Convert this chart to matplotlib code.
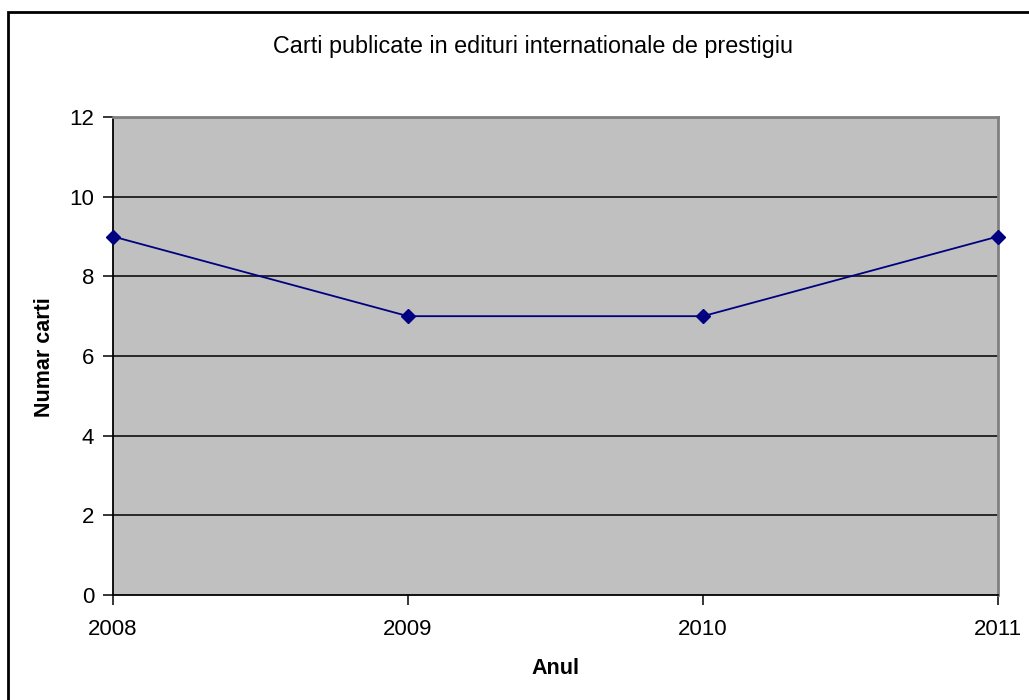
import matplotlib
matplotlib.use('Agg')
import matplotlib.pyplot as plt
from matplotlib.patches import Rectangle

years = ['2008', '2009', '2010', '2011']
books = [9, 7, 7, 9]
y_ticks = [0, 2, 4, 6, 8, 10, 12]

plt.rcParams['font.family'] = ['Liberation Sans', 'DejaVu Sans']

W, H = 1029, 700
fig = plt.figure(figsize=(W / 100, H / 100), dpi=100)
fig.patch.set_facecolor('white')

# outer chart frame (runs off the right and bottom of the picture)
fig.add_artist(Rectangle((7.5 / W, -0.05), 1.2, 1 - 11.5 / H + 0.05,
                         transform=fig.transFigure, fill=False,
                         edgecolor='black', linewidth=2, clip_on=False))

ax = fig.add_axes([113 / W, 1 - 595 / H, (998 - 113) / W, (595 - 117) / H])
ax.set_facecolor('#c0c0c0')

x = list(range(len(years)))
ax.plot(x, books, color='#000080', linewidth=1.3, marker='D',
        markersize=7.5, markerfacecolor='#000080', markeredgecolor='#000080',
        zorder=3, clip_on=False)

ax.set_xlim(0, len(years) - 1)
ax.set_ylim(0, 12)
ax.set_xticks(x)
ax.set_xticklabels(years)
ax.set_yticks(y_ticks)
for t in y_ticks[1:-1]:
    ax.axhline(t, color='black', linewidth=1.1, zorder=1)

ax.tick_params(axis='both', direction='out', length=7.5, width=1.1,
               labelsize=16, colors='black')
ax.tick_params(axis='x', pad=10)
ax.tick_params(axis='y', pad=6)

ax.spines['left'].set_color('black')
ax.spines['bottom'].set_color('black')
ax.spines['left'].set_linewidth(1.3)
ax.spines['bottom'].set_linewidth(1.3)
ax.spines['top'].set_color('#808080')
ax.spines['right'].set_color('#808080')
ax.spines['top'].set_linewidth(2)
ax.spines['right'].set_linewidth(2)

fig.text(533 / W, 1 - 47 / H, 'Carti publicate in edituri internationale de prestigiu',
         ha='center', va='center', fontsize=16.8)
fig.text(555 / W, 1 - 668 / H, 'Anul', ha='center', va='center',
         fontsize=15.5, fontweight='bold')
fig.text(45 / W, 1 - 357 / H, 'Numar carti', ha='center', va='center',
         fontsize=15.5, fontweight='bold', rotation=90)

fig.savefig('out.png', dpi=100)
